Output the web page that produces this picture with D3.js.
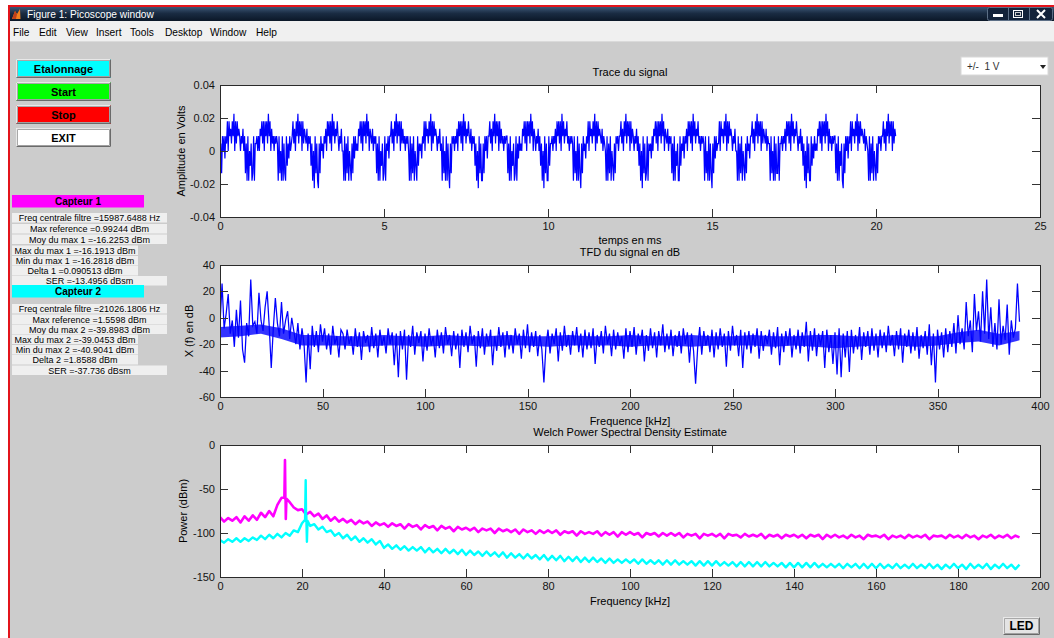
<!DOCTYPE html>
<html><head><meta charset="utf-8">
<script src="https://cdn.jsdelivr.net/npm/d3@7"></script>
<style>
html,body{margin:0;padding:0;background:#fff;overflow:hidden}
svg{display:block}
text{font-family:"Liberation Sans",Arial,sans-serif}
.ax text{font-size:11px;fill:#141414}
.ax line{stroke:#333;shape-rendering:crispEdges}
.ax path.domain{display:none}
</style></head><body>
<svg id="c" width="1054" height="638"></svg>
<script>
// ---------------- DATA ----------------
const windowTitle = "Figure 1: Picoscope window";
const menuItems = ["File","Edit","View","Insert","Tools","Desktop","Window","Help"];
const menuX = [13,39,66,96,130,165,210,256];
const buttonLabels = ["Etalonnage","Start","Stop","EXIT"];
const buttonColors = ["#00ffff","#00ff00","#ff0000","#ffffff"];
const capteurLabels = ["Capteur 1","Capteur 2"];
const capteurColors = ["#ff00ff","#00ffff"];
const capteur1Rows = ["Freq centrale filtre =15987.6488 Hz","Max reference =0.99244 dBm","Moy du max 1 =-16.2253 dBm","Max du max 1 =-16.1913 dBm","Min du max 1 =-16.2818 dBm","Delta 1 =0.090513 dBm","SER =-13.4956 dBsm"];
const capteur2Rows = ["Freq centrale filtre =21026.1806 Hz","Max reference =1.5598 dBm","Moy du max 2 =-39.8983 dBm","Max du max 2 =-39.0453 dBm","Min du max 2 =-40.9041 dBm","Delta 2 =1.8588 dBm","SER =-37.736 dBsm"];
const rowWide = [true,true,true,false,false,false,true];
const rangeLabel = "+/-  1 V";
const ledLabel = "LED";

// Plot 1: Trace du signal (ADC levels, LSB in volts, sample step in ms)
const traceLsb = 0.0045;
const traceDtMs = 0.025;
const traceLevels = [
-4,1,-3,2,0,2,-1,2,1,4,0,4,2,3,1,4,2,5,0,4,1,4,2,3,2,0,2,1,3,0,2,-3,1,-4,2,-4,0,-2,1,-4,
-3,2,-4,1,1,2,0,2,0,3,2,4,1,4,0,4,2,4,1,5,2,4,0,3,1,2,0,2,1,2,1,-4,2,-3,0,-4,2,-4,1,-3,
-4,2,-2,1,-1,2,0,1,2,4,1,3,0,4,2,5,1,4,2,4,0,4,1,3,2,1,3,0,2,1,2,-2,1,-4,0,-5,2,-3,1,-4,
-5,1,-3,2,0,1,-1,2,1,3,0,4,2,4,1,4,0,5,2,4,1,3,2,4,2,0,2,1,3,0,0,-4,2,-4,1,-3,2,-4,0,-2,
-4,1,-3,2,-1,2,0,1,0,3,2,4,1,4,0,4,2,4,1,5,2,4,0,3,2,1,3,0,2,1,2,-3,1,-4,2,-4,0,-2,1,-4,
-3,2,-4,1,0,2,-1,2,2,4,1,3,0,4,2,5,1,4,2,4,0,4,1,3,1,2,0,2,1,2,0,-4,2,-4,1,-3,2,-4,0,-2,
-4,2,-2,1,0,1,-1,2,1,4,0,4,2,3,1,4,2,5,0,4,1,4,2,3,2,0,2,1,3,0,1,-4,2,-3,0,-4,2,-4,1,-3,
-5,1,-3,2,1,2,0,2,1,3,0,4,2,4,1,4,0,5,2,4,1,3,2,4,2,1,3,0,2,1,2,-2,1,-4,0,-5,2,-3,1,-4,
-4,1,-3,2,0,2,-1,2,2,4,1,3,0,4,2,5,1,4,2,4,0,4,1,3,1,2,0,2,1,2,2,-3,1,-4,2,-4,0,-2,1,-4,
-3,2,-4,1,-1,2,0,1,0,3,2,4,1,4,0,4,2,4,1,5,2,4,0,3,2,0,2,1,3,0,2,-2,1,-4,0,-5,2,-3,1,-4,
-4,2,-2,1,1,2,0,2,1,3,0,4,2,4,1,4,0,5,2,4,1,3,2,4,1,2,0,2,1,2,1,-4,2,-3,0,-4,2,-4,1,-3,
-5,1,-3,2,0,1,-1,2,1,4,0,4,2,3,1,4,2,5,0,4,1,4,2,3,2,1,3,0,2,1,0,-4,2,-4,1,-3,2,-4,0,-2,
-4,1,-3,2,1,2,0,2,2,4,1,3,0,4,2,5,1,4,2,4,0,4,1,3,2,0,2,1,3,0,2,-2,1,-4,0,-5,2,-3,1,-4,
-3,2,-4,1,0,1,-1,2,0,3,2,4,1,4,0,4,2,4,1,5,2,4,0,3,2,1,3,0,2,1,2,-3,1,-4,2,-4,0,-2,1,-4,
-4,2,-2,1,0,2,-1,2,1,3,0,4,2,4,1,4,0,5,2,4,1,3,2,4,1,2,0,2,1,2,1,-4,2,-3,0,-4,2,-4,1,-3,
-5,1,-3,2,-1,2,0,1,1,4,0,4,2,3,1,4,2,5,0,4,1,4,2,3,2,0,2,1,3,0,0,-4,2,-4,1,-3,2,-4,0,-2,
-4,1,-3,2,0,1,-1,2,2,4,1,3,0,4,2,5,1,4,2,4,0,4,1,3,2,1,3,0,2,1,1,-4,2,-3,0,-4,2,-4,1,-3,
-3,2,-4,1,1,2,0,2,1,3,0,4,2,4,1,4,0,5,2,4,1,3,2,4,2,0,2,1,3,0,2,-2,1,-4,0,-5,2,-3,1,-4,
-4,2,-2,1,-1,2,0,1,0,3,2,4,1,4,0,4,2,4,1,5,2,4,0,3,1,2,0,2,1,2,2,-3,1,-4,2,-4,0,-2,1,-4,
-5,1,-3,2,0,2,-1,2,1,4,0,4,2,3,1,4,2,5,0,4,1,4,2,3,2,1,3,0,2,1,0,-4,2,-4,1,-3,2,-4,0,-2,
-4,1,-3,2,1,2,0,2,2,4,1,3,0,4,2,5,1,4,2,4,0,4,1,3,2];
const traceXTicks = [0,5,10,15,20,25];
const traceYTicks = [-0.04,-0.02,0,0.02,0.04];

// Plot 2: TFD (dB), 1 kHz step
const fftStepKHz = 1;
const fftDb = [
-5,26,-8,3,18,-12,-2,-22,6,-15,
13,-24,-34,-4,-14,29,-6,-3,-12,19,
-2,-10,8,20,-6,-38,-8,15,-4,-14,
12,-12,-2,5,-16,0,-10,-20,-4,-24,
-8,-20,-49,-12,-39,-6,-22,-10,-26,-5,
-18,-8,-24,-12,-28,-6,-20,-14,-30,-9,
-12,-24,-9,-20,-14,-28,-8,-22,-11,-32,
-10,-19,-13,-26,-7,-23,-12,-30,-9,-21,
-14,-27,-8,-20,-11,-36,-12,-45,-10,-24,
-9,-47,-13,-22,-6,-28,-11,-19,-10,-33,
-12,-25,-8,-21,-14,-30,-9,-23,-11,-27,
-7,-20,-13,-29,-10,-24,-12,-38,-9,-22,
-11,-26,-6,-20,-13,-37,-10,-23,-8,-28,
-12,-21,-9,-36,-14,-25,-7,-22,-11,-30,
-10,-24,-13,-27,-8,-20,-12,-31,-9,-23,
-5,-26,-11,-22,-10,-29,-13,-24,-49,-21,
-9,-27,-12,-20,-8,-33,-11,-25,-6,-22,
-13,-28,-10,-21,-7,-26,-12,-30,-9,-24,
-11,-23,-8,-35,-13,-22,-10,-27,-6,-20,
-12,-29,-9,-24,-11,-21,-14,-31,-8,-26,
-10,-22,-7,-28,-12,-20,-9,-33,-13,-25,
-8,-23,-11,-30,-10,-21,-5,-26,-12,-24,
-9,-29,-13,-22,-10,-27,-8,-20,-11,-34,
-12,-25,-50,-23,-7,-28,-10,-21,-13,-26,
-9,-30,-11,-24,-8,-22,-12,-37,-10,-25,
-6,-21,-13,-29,-9,-38,-11,-24,-10,-27,
-12,-22,-8,-31,-10,-25,-13,-20,-9,-28,
-11,-23,-7,-36,-12,-26,-10,-21,-8,-30,
-13,-24,-9,-27,-11,-22,-3,-33,-10,-25,
-8,-29,-12,-21,-10,-38,-9,-26,-13,-35,
-11,-43,-8,-45,-12,-30,-10,-41,-9,-27,
-13,-24,-7,-32,-11,-22,-10,-28,-8,-25,
-12,-30,-9,-23,-11,-26,-6,-21,-13,-29,
-10,-24,-8,-34,-12,-22,-9,-27,-11,-25,
-7,-31,-13,-23,-10,-28,-5,-36,-12,-49,
-9,-24,-11,-30,-8,-26,-10,-22,-4,-27,
2,-20,-8,-24,12,-14,-2,-26,18,-10,
5,-18,20,-12,29,-16,8,-22,-4,-24,
14,-20,-6,-17,10,-28,-2,-15,-8,26,
-3];
// dense noise core of the TFD, read every 10 kHz (0..390)
const fftCoreStepKHz = 10;
const fftCoreTop = [-7,-6,-5,-8,-13,-13,-14,-14,-13,-14,-14,-13,-14,-14,-13,-14,-14,-13,-14,-14,-13,-14,-14,-13,-14,-14,-13,-14,-14,-13,-13,-14,-14,-13,-14,-14,-11,-9,-12,-10];
const fftCoreBottom = [-15,-14,-12,-16,-21,-21,-21,-22,-21,-21,-22,-21,-21,-22,-21,-21,-22,-21,-21,-21,-22,-21,-21,-22,-21,-21,-21,-22,-21,-22,-23,-22,-21,-21,-22,-21,-19,-18,-21,-17];
const fftXTicks = [0,50,100,150,200,250,300,350,400];
const fftYTicks = [-60,-40,-20,0,20,40];

// Plot 3: Welch PSD (dBm), 1 kHz step
const psdStepKHz = 1;
const psdMagenta = [
-82,-87,-83,-86,-82,-88,-81,-86,-80,-85,
-77,-82,-75,-81,-68,-60,-62,-65,-71,-74,
-73,-79,-76,-81,-78,-84,-80,-86,-82,-87,
-84,-88,-85,-90,-86,-89,-87,-92,-88,-91,
-89,-93,-89,-92,-90,-95,-90,-93,-91,-96,
-91,-94,-92,-97,-92,-95,-93,-98,-93,-96,
-94,-97,-94,-99,-95,-97,-95,-100,-95,-98,
-96,-99,-96,-101,-96,-99,-97,-101,-97,-100,
-97,-100,-97,-102,-98,-100,-98,-103,-98,-101,
-99,-101,-98,-103,-99,-102,-99,-104,-99,-102,
-99,-102,-100,-105,-100,-102,-100,-104,-100,-103,
-100,-103,-100,-105,-101,-103,-101,-106,-101,-103,
-101,-104,-101,-106,-101,-103,-102,-105,-101,-104,
-102,-104,-101,-106,-102,-104,-102,-106,-102,-104,
-102,-105,-102,-106,-102,-104,-102,-107,-102,-105,
-102,-105,-103,-106,-102,-105,-103,-107,-102,-104,
-103,-105,-102,-107,-103,-105,-103,-106,-102,-105,
-103,-105,-102,-107,-103,-104,-103,-106,-102,-105,
-103,-106,-102,-105,-103,-107,-103,-105,-102,-106,
-103,-105,-102,-106,-103,-105];
const psdMagentaPeak = [[15.7,-60],[15.85,-17],[15.95,-62],[16.05,-84],[16.2,-61]];
const psdCyan = [
-108,-111,-107,-110,-106,-110,-106,-109,-105,-108,
-103,-107,-102,-106,-101,-105,-100,-103,-97,-99,
-89,-87,-92,-90,-96,-93,-99,-97,-103,-100,
-106,-102,-108,-104,-110,-106,-111,-107,-113,-109,
-117,-113,-118,-114,-119,-115,-120,-116,-120,-116,
-122,-117,-122,-118,-123,-118,-123,-119,-124,-119,
-125,-120,-125,-121,-126,-121,-126,-122,-127,-122,
-128,-123,-128,-124,-129,-124,-129,-125,-130,-125,
-131,-126,-131,-126,-132,-127,-132,-127,-133,-128,
-133,-128,-133,-129,-134,-129,-134,-130,-134,-130,
-134,-130,-135,-130,-135,-131,-135,-131,-136,-131,
-136,-131,-136,-132,-136,-132,-137,-132,-137,-132,
-137,-132,-137,-133,-137,-133,-138,-133,-138,-133,
-138,-133,-138,-133,-138,-134,-138,-134,-139,-134,
-139,-134,-139,-134,-139,-134,-139,-135,-139,-135,
-139,-135,-140,-135,-139,-135,-140,-135,-140,-135,
-140,-135,-140,-136,-140,-135,-140,-136,-140,-135,
-140,-136,-140,-135,-140,-136,-141,-136,-140,-135,
-140,-136,-141,-135,-140,-136,-140,-135,-141,-136,
-140,-135,-140,-136,-141,-136];
const psdCyanPeak = [[20.75,-85],[20.9,-40],[21.05,-80],[21.2,-110],[21.35,-86]];
const psdXTicks = [0,20,40,60,80,100,120,140,160,180,200];
const psdYTicks = [-150,-100,-50,0];

// ---------------- DRAWING ----------------
const W = 1054, H = 638;
const figBg = "#cccccc";
const svg = d3.select("#c");
const defs = svg.append("defs");
const tg = defs.append("linearGradient").attr("id","tb").attr("x1",0).attr("y1",0).attr("x2",0).attr("y2",1);
tg.append("stop").attr("offset","0%").attr("stop-color","#3d5775");
tg.append("stop").attr("offset","45%").attr("stop-color","#1a2c43");
tg.append("stop").attr("offset","100%").attr("stop-color","#0b1727");

svg.append("rect").attr("width",W).attr("height",H).attr("fill","#fff");
svg.append("rect").attr("x",10).attr("y",42).attr("width",W-10).attr("height",H-42).attr("fill",figBg);
svg.append("rect").attr("x",8).attr("y",5).attr("width",W-8).attr("height",2).attr("fill","#e3141b");
svg.append("rect").attr("x",8).attr("y",5).attr("width",2).attr("height",H-5).attr("fill","#e3141b");
svg.append("rect").attr("x",10).attr("y",7).attr("width",W-10).attr("height",14).attr("fill","url(#tb)");
svg.append("path").attr("d","M12,19 L15,11 L17,14 L20,9 L20.5,19 Z").attr("fill","#f08020");
svg.append("path").attr("d","M15,11 L17,14 L16,19 L12,19 Z").attr("fill","#c0401a");
svg.append("text").attr("x",27).attr("y",18).attr("fill","#fff").attr("font-size",10.2).text(windowTitle);
const wb = svg.append("g");
wb.append("rect").attr("x",987.5).attr("y",7.5).attr("width",65).attr("height",13).attr("rx",2).attr("fill","#13233a").attr("stroke","#5c6f86");
wb.append("line").attr("x1",1008.5).attr("x2",1008.5).attr("y1",8).attr("y2",20).attr("stroke","#5c6f86");
wb.append("line").attr("x1",1029.5).attr("x2",1029.5).attr("y1",8).attr("y2",20).attr("stroke","#5c6f86");
wb.append("rect").attr("x",993).attr("y",14).attr("width",10).attr("height",3).attr("fill","#fff");
wb.append("rect").attr("x",1013.5).attr("y",10.5).attr("width",9).attr("height",7).attr("fill","none").attr("stroke","#fff");
wb.append("rect").attr("x",1015.5).attr("y",12.5).attr("width",5).attr("height",3).attr("fill","#13233a").attr("stroke","#ccc");
wb.append("path").attr("d","M1037,10 L1045,18 M1045,10 L1037,18").attr("stroke","#fff").attr("stroke-width",2);
svg.append("rect").attr("x",10).attr("y",21).attr("width",W-10).attr("height",21).attr("fill","#f0f0f0");
svg.append("rect").attr("x",10).attr("y",41).attr("width",W-10).attr("height",1).attr("fill","#dadada");
svg.selectAll("text.menu").data(menuItems).join("text").attr("class","menu")
  .attr("x",(d,i)=>menuX[i]).attr("y",36).attr("font-size",10.2).attr("fill","#000").text(d=>d);

function button(x,y,w,h,fill,label,fs){
  const g = svg.append("g");
  g.append("rect").attr("x",x).attr("y",y).attr("width",w).attr("height",h).attr("fill",fill);
  g.append("path").attr("d",`M${x+0.5},${y+h-0.5}V${y+0.5}H${x+w-0.5}`).attr("stroke","#e8e8e8").attr("fill","none");
  g.append("path").attr("d",`M${x+1.5},${y+h-1.5}V${y+1.5}H${x+w-1.5}`).attr("stroke","#a8a8a8").attr("fill","none");
  g.append("path").attr("d",`M${x+0.5},${y+h-0.5}H${x+w-0.5}V${y+0.5}`).attr("stroke","#6a6a6a").attr("fill","none");
  g.append("path").attr("d",`M${x+1.5},${y+h-1.5}H${x+w-1.5}V${y+1.5}`).attr("stroke","#a0a0a0").attr("fill","none");
  g.append("text").attr("x",x+w/2).attr("y",y+h/2+4.2).attr("text-anchor","middle")
    .attr("font-size",fs||11).attr("font-weight","bold").attr("fill","#000").text(label);
}
const btnY = [59,82,105,128];
buttonLabels.forEach((l,i)=>button(16,btnY[i],95,19,buttonColors[i],l));

function panel(labelY,rowTops,label,color,rows){
  svg.append("rect").attr("x",12).attr("y",labelY).attr("width",132).attr("height",12.5).attr("fill",color);
  svg.append("text").attr("x",78).attr("y",labelY+10).attr("text-anchor","middle").attr("font-size",10)
    .attr("font-weight","bold").attr("fill","#000").text(label);
  rows.forEach((r,i)=>{
    const w = rowWide[i] ? 155 : 126;
    svg.append("rect").attr("x",12).attr("y",rowTops[i]).attr("width",w).attr("height",9.5).attr("fill","#efefef");
    svg.append("text").attr("x",12+w/2).attr("y",rowTops[i]+8).attr("text-anchor","middle")
      .attr("font-size",9).attr("fill","#000").text(r);
  });
}
panel(195,[213,224,234.5,245.5,256,266,276],capteurLabels[0],capteurColors[0],capteur1Rows);
panel(285,[304,314.5,324.5,334.5,345,355,365.5],capteurLabels[1],capteurColors[1],capteur2Rows);

svg.append("rect").attr("x",961).attr("y",57).attr("width",87).attr("height",18).attr("fill","#fff").attr("stroke","#d8d8d8");
svg.append("text").attr("x",967).attr("y",70).attr("font-size",10).attr("fill","#333").attr("xml:space","preserve").text(rangeLabel);
svg.append("path").attr("d","M1040,65 L1046,65 L1043,69 Z").attr("fill","#222");

button(1003,617,37,18,"#e4e4e4",ledLabel,12);

// ------------- axes -------------
const L = 220, R = 1040;
function makeAxes(p){
  const x = d3.scaleLinear().domain(p.xDomain).range([L,R]);
  const y = d3.scaleLinear().domain(p.yDomain).range([p.bottom,p.top]);
  svg.append("rect").attr("x",L).attr("y",p.top).attr("width",R-L).attr("height",p.bottom-p.top).attr("fill","#fff");
  defs.append("clipPath").attr("id",p.id).append("rect").attr("x",L).attr("y",p.top).attr("width",R-L).attr("height",p.bottom-p.top);
  const plot = svg.append("g").attr("clip-path",`url(#${p.id})`);
  return {x,y,plot};
}
function finishAxes(p,x,y){
  const fmt = d=>String(d);
  const ax = svg.append("g").attr("class","ax");
  ax.append("g").attr("transform",`translate(0,${p.bottom})`)
    .call(d3.axisBottom(x).tickValues(p.xTicks).tickFormat(fmt).tickSize(-8).tickPadding(5).offset(0.5));
  ax.append("g").attr("transform",`translate(0,${p.top})`)
    .call(d3.axisTop(x).tickValues(p.xTicks).tickFormat("").tickSize(-8).offset(0.5));
  ax.append("g").attr("transform",`translate(${L},0)`)
    .call(d3.axisLeft(y).tickValues(p.yTicks).tickFormat(fmt).tickSize(-8).tickPadding(5).offset(0.5));
  ax.append("g").attr("transform",`translate(${R},0)`)
    .call(d3.axisRight(y).tickValues(p.yTicks).tickFormat("").tickSize(-8).offset(0.5));
  svg.append("rect").attr("x",L+0.5).attr("y",p.top+0.5).attr("width",R-L).attr("height",p.bottom-p.top)
    .attr("fill","none").attr("stroke","#2a2a2a").attr("shape-rendering","crispEdges");
  const cx = (L+R)/2;
  svg.append("text").attr("x",cx).attr("y",p.top-9).attr("text-anchor","middle").attr("font-size",11).attr("fill","#000").text(p.title);
  svg.append("text").attr("x",cx).attr("y",p.xLabelY).attr("text-anchor","middle").attr("font-size",11).attr("fill","#000").text(p.xLabel);
  svg.append("text").attr("transform",`translate(${p.yLabelX},${(p.top+p.bottom)/2}) rotate(-90)`)
    .attr("text-anchor","middle").attr("font-size",11).attr("fill","#000").text(p.yLabel);
}

// Plot 1
const p1 = {id:"c1",xDomain:[0,25],yDomain:[-0.04,0.04],top:85,bottom:217,xTicks:traceXTicks,yTicks:traceYTicks,
  title:"Trace du signal",xLabel:"temps en ms",yLabel:"Amplitude en Volts",xLabelY:244,yLabelX:185};
const a1 = makeAxes(p1);
const traceData = traceLevels.map((v,i)=>[i*traceDtMs, v*traceLsb]);
a1.plot.append("path").datum(traceData).attr("fill","none").attr("stroke","#0000ff").attr("stroke-width",1.2)
  .attr("d",d3.line().x(d=>a1.x(d[0])).y(d=>a1.y(d[1])));
finishAxes(p1,a1.x,a1.y);

// Plot 2
const p2 = {id:"c2",xDomain:[0,400],yDomain:[-60,40],top:265,bottom:397,xTicks:fftXTicks,yTicks:fftYTicks,
  title:"TFD du signal en dB",xLabel:"Frequence [kHz]",yLabel:"X (f) en dB",xLabelY:425,yLabelX:193};
const a2 = makeAxes(p2);
const coreData = fftCoreTop.map((v,i)=>[i*fftCoreStepKHz, v, fftCoreBottom[i]]);
a2.plot.append("path").datum(coreData).attr("fill","#0000ff").attr("fill-opacity",0.8)
  .attr("d",d3.area().x(d=>a2.x(d[0])).y0(d=>a2.y(d[2])).y1(d=>a2.y(d[1])));
const fftData = fftDb.map((v,i)=>[i*fftStepKHz, v]);
a2.plot.append("path").datum(fftData).attr("fill","none").attr("stroke","#0000ff").attr("stroke-width",1.25)
  .attr("d",d3.line().x(d=>a2.x(d[0])).y(d=>a2.y(d[1])));
finishAxes(p2,a2.x,a2.y);

// Plot 3
const p3 = {id:"c3",xDomain:[0,200],yDomain:[-150,0],top:445,bottom:577,xTicks:psdXTicks,yTicks:psdYTicks,
  title:"Welch Power Spectral Density Estimate",xLabel:"Frequency [kHz]",yLabel:"Power (dBm)",xLabelY:605,yLabelX:187};
const a3 = makeAxes(p3);
function psdSeries(vals,peak){
  const pts = vals.map((v,i)=>[i*psdStepKHz, v]).concat(peak);
  return pts.sort((a,b)=>a[0]-b[0]);
}
const psdLine = d3.line().x(d=>a3.x(d[0])).y(d=>a3.y(d[1]));
a3.plot.append("path").datum(psdSeries(psdMagenta,psdMagentaPeak)).attr("fill","none").attr("stroke","#ff00ff").attr("stroke-width",2.6).attr("stroke-linejoin","round").attr("d",psdLine);
a3.plot.append("path").datum(psdSeries(psdCyan,psdCyanPeak)).attr("fill","none").attr("stroke","#00ffff").attr("stroke-width",2.4).attr("stroke-linejoin","round").attr("d",psdLine);
finishAxes(p3,a3.x,a3.y);
</script>
</body></html>
